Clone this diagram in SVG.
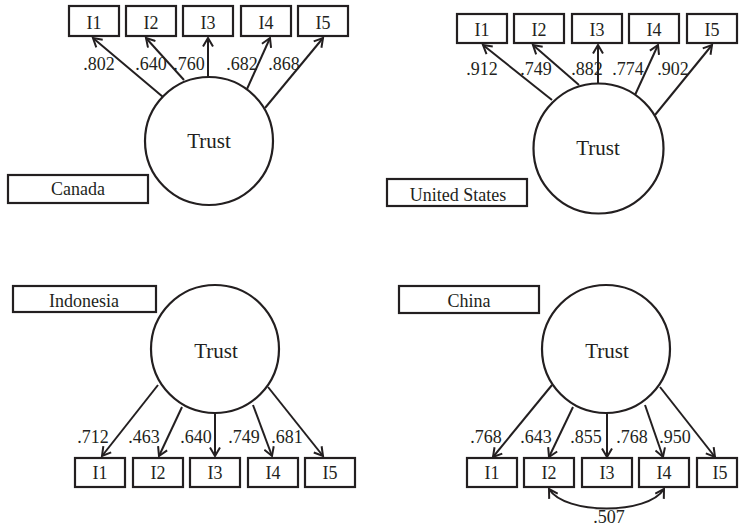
<svg xmlns="http://www.w3.org/2000/svg" width="739" height="531" viewBox="0 0 739 531">
<style>
  .bx{fill:#fff;stroke:#231f20;stroke-width:2.2}
  .lv{fill:#fff;stroke:#231f20;stroke-width:2.2}
  .t{font-family:"Liberation Serif","Times New Roman","DejaVu Serif",serif;font-size:18px;fill:#231f20;text-anchor:middle}
  .tt{font-family:"Liberation Serif","Times New Roman","DejaVu Serif",serif;font-size:21px;fill:#231f20;text-anchor:middle}
  .ln{stroke:#231f20;stroke-width:2;fill:none;marker-end:url(#ah)}
</style>
<defs>
  <marker id="ah" viewBox="0 0 12 12" refX="10.5" refY="6" markerWidth="12" markerHeight="12" markerUnits="userSpaceOnUse" orient="auto-start-reverse">
    <path d="M2,1 L10.5,6 L2,11" fill="none" stroke="#231f20" stroke-width="2"/>
  </marker>
</defs>

<!-- Canada -->
<g id="canada">
  <g id="ca-label"><rect class="bx" x="8" y="175" width="140" height="28"/><text class="t" x="78" y="195">Canada</text></g>
  <g id="ca-trust"><circle class="lv" cx="209" cy="141" r="64"/><text class="tt" x="209" y="148">Trust</text></g>
  <g id="ca-i1"><rect class="bx" x="69" y="6" width="50" height="30"/><text class="t" x="94" y="29">I1</text></g>
  <g id="ca-i2"><rect class="bx" x="126" y="6" width="50" height="30"/><text class="t" x="151" y="29">I2</text></g>
  <g id="ca-i3"><rect class="bx" x="183" y="6" width="50" height="30"/><text class="t" x="208" y="29">I3</text></g>
  <g id="ca-i4"><rect class="bx" x="241" y="6" width="50" height="30"/><text class="t" x="266" y="29">I4</text></g>
  <g id="ca-i5"><rect class="bx" x="298" y="6" width="50" height="30"/><text class="t" x="323" y="29">I5</text></g>
</g>

<!-- United States -->
<g id="us">
  <g id="us-label"><rect class="bx" x="387" y="179" width="140" height="27"/><text class="t" x="458" y="201">United States</text></g>
  <g id="us-trust"><circle class="lv" cx="598.5" cy="148.5" r="65"/><text class="tt" x="598" y="155">Trust</text></g>
  <g id="us-i1"><rect class="bx" x="457" y="14" width="50" height="29"/><text class="t" x="482" y="36">I1</text></g>
  <g id="us-i2"><rect class="bx" x="514" y="14" width="50" height="29"/><text class="t" x="539" y="36">I2</text></g>
  <g id="us-i3"><rect class="bx" x="572" y="14" width="50" height="29"/><text class="t" x="597" y="36">I3</text></g>
  <g id="us-i4"><rect class="bx" x="629" y="14" width="50" height="29"/><text class="t" x="654" y="36">I4</text></g>
  <g id="us-i5"><rect class="bx" x="687" y="14" width="50" height="29"/><text class="t" x="712" y="36">I5</text></g>
</g>

<!-- Indonesia -->
<g id="indonesia">
  <g id="id-label"><rect class="bx" x="13" y="286" width="143" height="26"/><text class="t" x="84" y="307">Indonesia</text></g>
  <g id="id-trust"><circle class="lv" cx="215" cy="349" r="64"/><text class="tt" x="216" y="358">Trust</text></g>
  <g id="id-i1"><rect class="bx" x="75" y="458" width="50" height="29"/><text class="t" x="100" y="479">I1</text></g>
  <g id="id-i2"><rect class="bx" x="133" y="458" width="50" height="29"/><text class="t" x="158" y="479">I2</text></g>
  <g id="id-i3"><rect class="bx" x="190" y="458" width="50" height="29"/><text class="t" x="215" y="479">I3</text></g>
  <g id="id-i4"><rect class="bx" x="248" y="458" width="50" height="29"/><text class="t" x="273" y="479">I4</text></g>
  <g id="id-i5"><rect class="bx" x="305" y="458" width="50" height="29"/><text class="t" x="330" y="479">I5</text></g>
</g>

<!-- China -->
<g id="china">
  <g id="cn-label"><rect class="bx" x="399" y="286" width="140" height="27"/><text class="t" x="469" y="307">China</text></g>
  <g id="cn-trust"><circle class="lv" cx="606" cy="349" r="64"/><text class="tt" x="607" y="358">Trust</text></g>
  <g id="cn-i1"><rect class="bx" x="467" y="458" width="50" height="29"/><text class="t" x="492" y="479">I1</text></g>
  <g id="cn-i2"><rect class="bx" x="524" y="458" width="50" height="29"/><text class="t" x="549" y="479">I2</text></g>
  <g id="cn-i3"><rect class="bx" x="582" y="458" width="50" height="29"/><text class="t" x="607" y="479">I3</text></g>
  <g id="cn-i4"><rect class="bx" x="639" y="458" width="50" height="29"/><text class="t" x="664" y="479">I4</text></g>
  <g id="cn-i5"><rect class="bx" x="697" y="458" width="40" height="29"/><text class="t" x="720" y="479">I5</text></g>
</g>

<!-- connectors -->
<g id="connectors">
  <!-- Canada -->
  <path class="ln" d="M163,97 L93,38"/>
  <path class="ln" d="M184,80 L146,38"/>
  <path class="ln" d="M208,77 L208,38"/>
  <path class="ln" d="M247,89 L270,38"/>
  <path class="ln" d="M265,108 L323,38"/>
  <!-- United States -->
  <path class="ln" d="M552,100 L483,45"/>
  <path class="ln" d="M579,85 L533,45"/>
  <path class="ln" d="M598,83 L598,45"/>
  <path class="ln" d="M635,95 L658,45"/>
  <path class="ln" d="M655,115 L712,45"/>
  <!-- Indonesia -->
  <path class="ln" d="M158,385 L102,456"/>
  <path class="ln" d="M182,407 L159,456"/>
  <path class="ln" d="M215,413 L215,456"/>
  <path class="ln" d="M253,405 L272,456"/>
  <path class="ln" d="M268,387 L323,456"/>
  <!-- China -->
  <path class="ln" d="M552,385 L493,457"/>
  <path class="ln" d="M573,407 L549,457"/>
  <path class="ln" d="M607,413 L607,457"/>
  <path class="ln" d="M645,405 L663,457"/>
  <path class="ln" d="M660,387 L715,457"/>
  <path class="ln" style="marker-start:url(#ah)" d="M549,489 C565,515 648,515 664,489"/>
</g>

<!-- loadings -->
<g id="loadings">
  <text class="t" x="99" y="70">.802</text>
  <text class="t" x="151" y="70">.640</text>
  <text class="t" x="189" y="70">.760</text>
  <text class="t" x="242" y="70">.682</text>
  <text class="t" x="284" y="70">.868</text>

  <text class="t" x="482" y="75">.912</text>
  <text class="t" x="536" y="75">.749</text>
  <text class="t" x="587" y="75">.882</text>
  <text class="t" x="628" y="75">.774</text>
  <text class="t" x="673" y="75">.902</text>

  <text class="t" x="93" y="443">.712</text>
  <text class="t" x="144" y="443">.463</text>
  <text class="t" x="196" y="443">.640</text>
  <text class="t" x="244" y="443">.749</text>
  <text class="t" x="287" y="443">.681</text>

  <text class="t" x="486" y="443">.768</text>
  <text class="t" x="536" y="443">.643</text>
  <text class="t" x="586" y="443">.855</text>
  <text class="t" x="632" y="443">.768</text>
  <text class="t" x="675" y="443">.950</text>

  <text class="t" x="609" y="523">.507</text>
</g>
</svg>
